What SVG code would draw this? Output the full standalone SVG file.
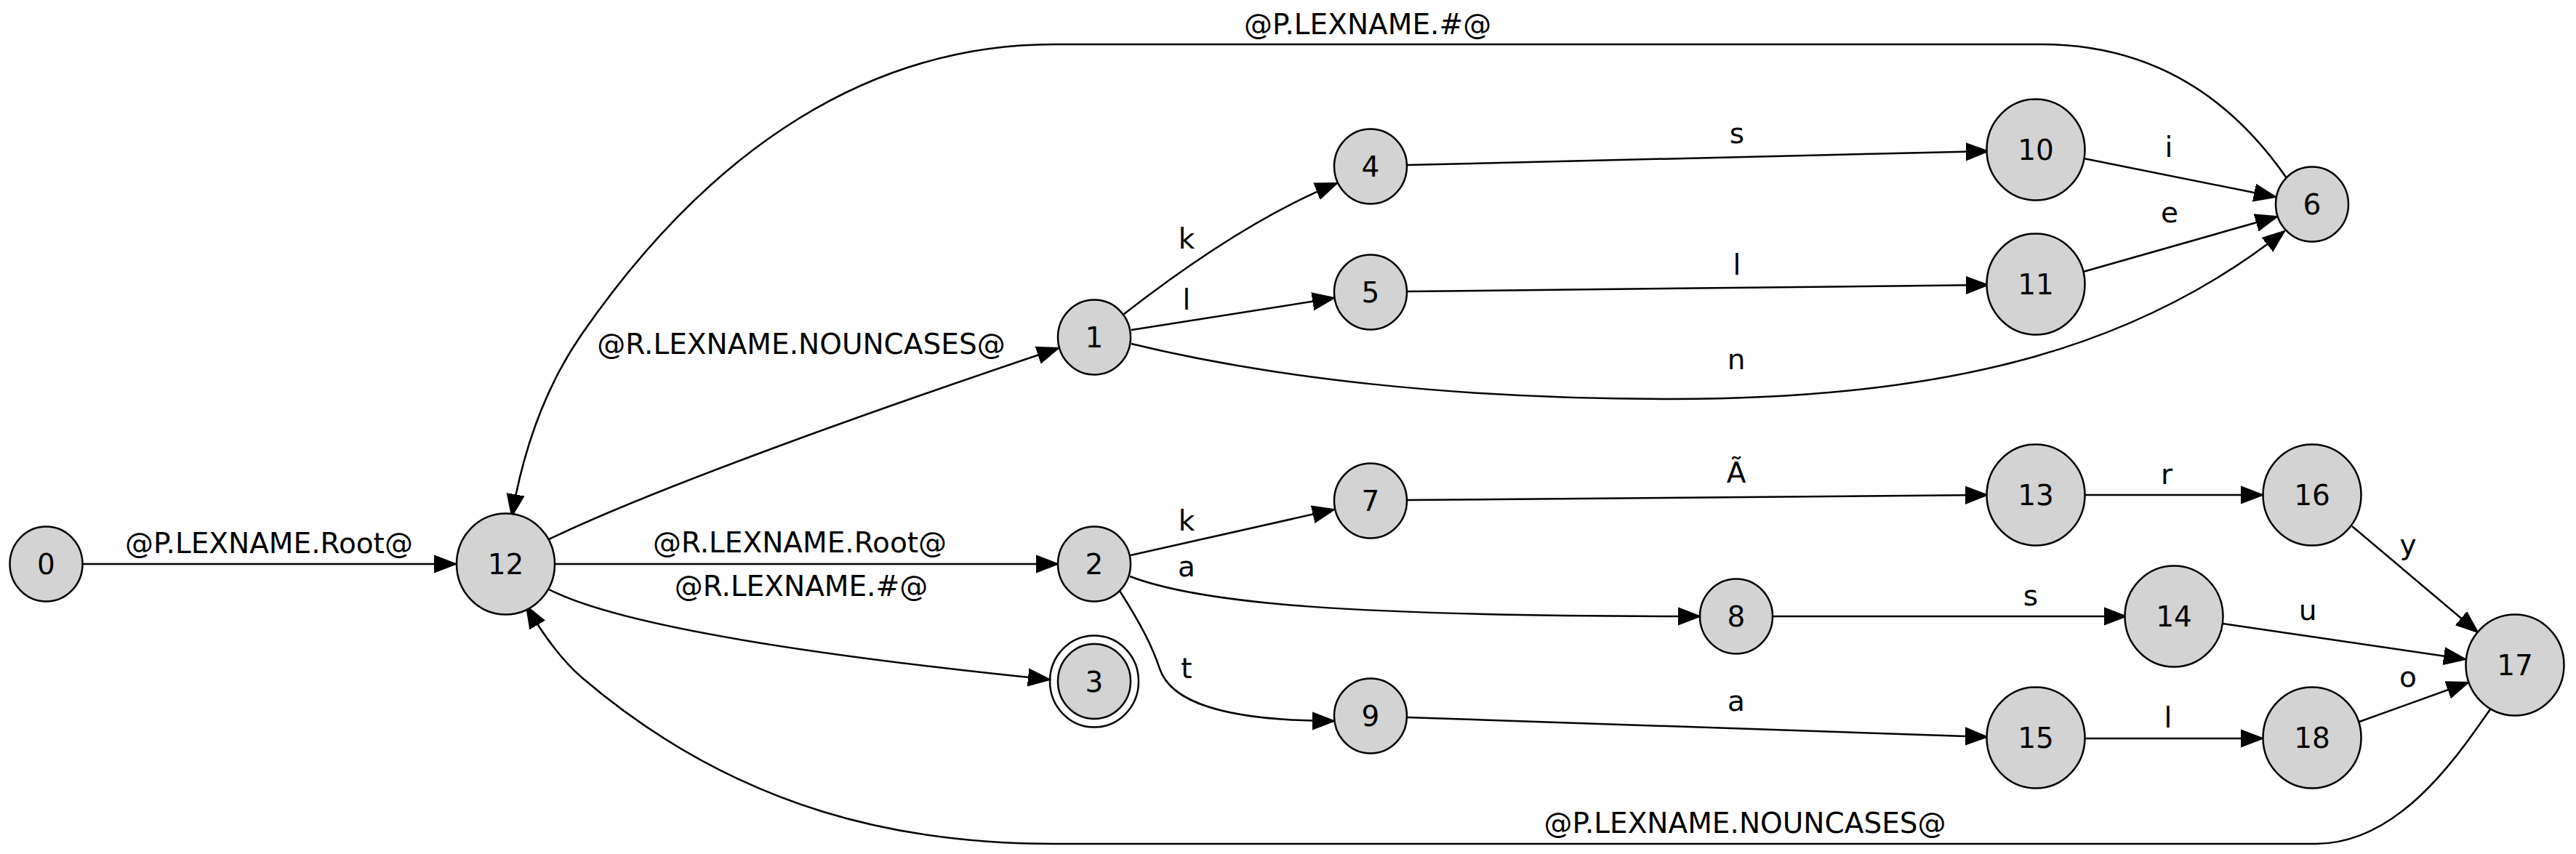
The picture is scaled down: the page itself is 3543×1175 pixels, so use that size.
<svg xmlns="http://www.w3.org/2000/svg" width="3543" height="1175" viewBox="0 0 3543 1175">
<style>
.n ellipse{fill:#d3d3d3;stroke:#000;stroke-width:2.5}
.n ellipse.ring{fill:none}
.n text{font-family:"DejaVu Sans",sans-serif;font-size:39px;text-anchor:middle;fill:#000}
.e path{fill:none;stroke:#000;stroke-width:2.5}
.e text{font-family:"DejaVu Sans",sans-serif;font-size:39px;text-anchor:middle;fill:#000}
</style>
<defs>
<marker id="ah" markerUnits="userSpaceOnUse" markerWidth="40" markerHeight="30" viewBox="0 -15 40 30" refX="30" refY="0" orient="auto">
<path d="M0,-11.5 L30,0 L0,11.5 Z" fill="#000" stroke="#000" stroke-width="2"/>
</marker>
</defs>
<rect width="3543" height="1175" fill="#fff"/>
<g id="edges" class="e">
<path marker-end="url(#ah)" d="M113,776 L627,776"/>
<text x="370" y="761">@P.LEXNAME.Root@</text>
<path marker-end="url(#ah)" d="M755,742 C900,672 1200,565 1456,479"/>
<text x="1102" y="487">@R.LEXNAME.NOUNCASES@</text>
<path marker-end="url(#ah)" d="M764,776 L1455,776"/>
<text x="1100" y="760">@R.LEXNAME.Root@</text>
<path marker-end="url(#ah)" d="M755,811 C850,860 1100,900 1444,935"/>
<text x="1102" y="820">@R.LEXNAME.#@</text>
<path marker-end="url(#ah)" d="M1546,432 C1600,390 1720,300 1839,252"/>
<text x="1632" y="342">k</text>
<path marker-end="url(#ah)" d="M1556,454 L1835,410"/>
<text x="1632" y="426">l</text>
<path marker-end="url(#ah)" d="M1556,473 C1750,520 2000,549 2300,549 C2700,549 2950,470 3142,318"/>
<text x="2388" y="508">n</text>
<path marker-end="url(#ah)" d="M1936,227 L2734,208"/>
<text x="2389" y="197">s</text>
<path marker-end="url(#ah)" d="M1936,401 L2734,392"/>
<text x="2389" y="378">l</text>
<path marker-end="url(#ah)" d="M2866,218 L3130,271"/>
<text x="2983" y="216">i</text>
<path marker-end="url(#ah)" d="M2865,374 L3132,298"/>
<text x="2984" y="306">e</text>
<path marker-end="url(#ah)" d="M3145,245 C3100,180 3000,61 2807,61 L1450,61 C1200,61 980,200 800,460 C740,547 716,640 704,710"/>
<text x="1711" y="47" style="text-anchor:start">@P.LEXNAME.#@</text>
<path marker-end="url(#ah)" d="M1555,764 L1835,701"/>
<text x="1632" y="730">k</text>
<path marker-end="url(#ah)" d="M1554,793 C1650,830 1850,848 2338,848"/>
<text x="1632" y="793">a</text>
<path marker-end="url(#ah)" d="M1540,813 C1570,860 1585,890 1595,920 C1610,965 1680,992 1835,992"/>
<text x="1632" y="933">t</text>
<path marker-end="url(#ah)" d="M1936,688 L2733,681"/>
<text x="2388" y="664">Ã</text>
<path marker-end="url(#ah)" d="M2438,848 L2924,848"/>
<text x="2793" y="833">s</text>
<path marker-end="url(#ah)" d="M1936,987 L2733,1014"/>
<text x="2388" y="978">a</text>
<path marker-end="url(#ah)" d="M2868,681 L3112,681"/>
<text x="2980" y="666">r</text>
<path marker-end="url(#ah)" d="M3057,858 L3391,907"/>
<text x="3174" y="853">u</text>
<path marker-end="url(#ah)" d="M2868,1016 L3112,1016"/>
<text x="2982" y="1001">l</text>
<path marker-end="url(#ah)" d="M3235,724 L3408,870"/>
<text x="3312" y="763">y</text>
<path marker-end="url(#ah)" d="M3245,993 L3395,939"/>
<text x="3312" y="945">o</text>
<path marker-end="url(#ah)" d="M3425,976 C3380,1040 3300,1161 3185,1161 L1450,1161 C1250,1161 1020,1120 800,932 C770,906 745,870 724,834"/>
<text x="2400" y="1146">@P.LEXNAME.NOUNCASES@</text>
</g>
<g id="node0" class="n"><ellipse cx="63.5" cy="776" rx="50" ry="51.5"/><text x="63.5" y="790">0</text></g>
<g id="node12" class="n"><ellipse cx="695.5" cy="776" rx="67.5" ry="69.5"/><text x="695.5" y="790">12</text></g>
<g id="node1" class="n"><ellipse cx="1505" cy="464" rx="50" ry="51.5"/><text x="1505" y="478">1</text></g>
<g id="node2" class="n"><ellipse cx="1505" cy="776" rx="50" ry="51.5"/><text x="1505" y="790">2</text></g>
<g id="node3" class="n"><ellipse class="ring" cx="1505" cy="937.5" rx="61" ry="63"/><ellipse cx="1505" cy="937.5" rx="50" ry="51.5"/><text x="1505" y="951.5">3</text></g>
<g id="node4" class="n"><ellipse cx="1885" cy="229" rx="50" ry="51.5"/><text x="1885" y="243">4</text></g>
<g id="node5" class="n"><ellipse cx="1885" cy="402" rx="50" ry="51.5"/><text x="1885" y="416">5</text></g>
<g id="node7" class="n"><ellipse cx="1885" cy="689" rx="50" ry="51.5"/><text x="1885" y="703">7</text></g>
<g id="node9" class="n"><ellipse cx="1885" cy="985" rx="50" ry="51.5"/><text x="1885" y="999">9</text></g>
<g id="node8" class="n"><ellipse cx="2388" cy="848" rx="50" ry="51.5"/><text x="2388" y="862">8</text></g>
<g id="node10" class="n"><ellipse cx="2800" cy="206" rx="67.5" ry="69.5"/><text x="2800" y="220">10</text></g>
<g id="node11" class="n"><ellipse cx="2800" cy="391" rx="67.5" ry="69.5"/><text x="2800" y="405">11</text></g>
<g id="node13" class="n"><ellipse cx="2800" cy="681" rx="67.5" ry="69.5"/><text x="2800" y="695">13</text></g>
<g id="node15" class="n"><ellipse cx="2800" cy="1015" rx="67.5" ry="69.5"/><text x="2800" y="1029">15</text></g>
<g id="node14" class="n"><ellipse cx="2990" cy="848" rx="67.5" ry="69.5"/><text x="2990" y="862">14</text></g>
<g id="node6" class="n"><ellipse cx="3180" cy="281" rx="50" ry="51.5"/><text x="3180" y="295">6</text></g>
<g id="node16" class="n"><ellipse cx="3180" cy="681" rx="67.5" ry="69.5"/><text x="3180" y="695">16</text></g>
<g id="node18" class="n"><ellipse cx="3180" cy="1015" rx="67.5" ry="69.5"/><text x="3180" y="1029">18</text></g>
<g id="node17" class="n"><ellipse cx="3459" cy="915" rx="67.5" ry="69.5"/><text x="3459" y="929">17</text></g>
</svg>
